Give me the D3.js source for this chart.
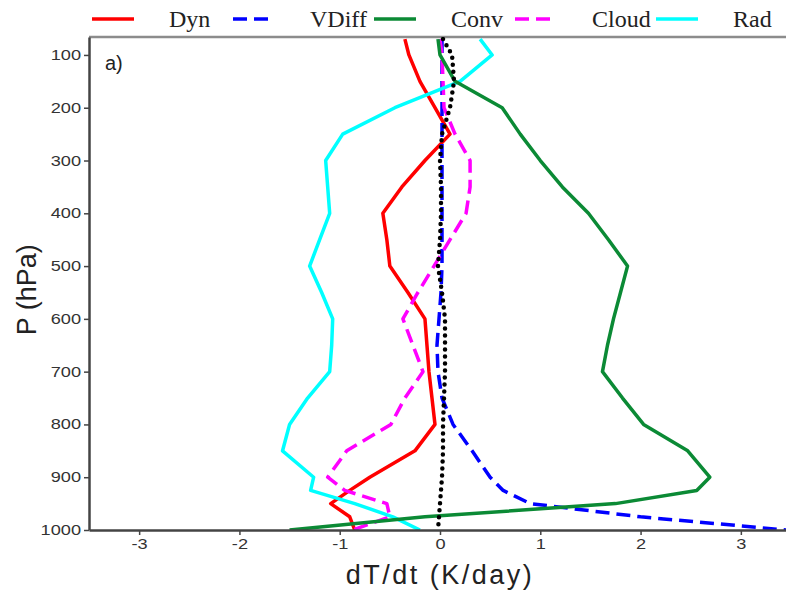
<!DOCTYPE html>
<html>
<head>
<meta charset="utf-8">
<script src="https://d3js.org/d3.v7.min.js"></script>
<style>
  body { margin: 0; background: #fff; }
  svg { display: block; }
</style>
</head>
<body>
<div id="chart"></div>
<script>
// pressure levels (hPa), shared by all profiles
var levels = [70, 100, 150, 200, 250, 300, 350, 400, 450, 500, 550, 600, 650, 700, 750, 800, 850, 900, 925, 950, 975, 1000];

// heating rates, K/day
var dyn   = [-0.35, -0.31, -0.2, -0.05, 0.1, -0.15, -0.38, -0.57, -0.53, -0.5, -0.32, -0.15, -0.13, -0.11, -0.08, -0.05, -0.25, -0.7, -0.9, -1.09, -0.9, -0.85];
var vdiff = [0.02, 0.02, 0.02, 0.02, 0.02, 0.02, 0.02, 0.02, 0.02, 0.02, 0.01, -0.01, -0.03, -0.02, 0.02, 0.13, 0.32, 0.5, 0.63, 0.9, 2.0, 3.45];
var conv  = [-0.02, 0.0, 0.15, 0.62, 0.8, 1.0, 1.22, 1.48, 1.68, 1.87, 1.8, 1.73, 1.67, 1.62, 1.82, 2.03, 2.47, 2.69, 2.56, 1.75, -0.15, -1.5];
var cloud = [0.0, 0.02, 0.03, 0.04, 0.15, 0.3, 0.3, 0.26, 0.1, -0.06, -0.22, -0.37, -0.27, -0.17, -0.35, -0.49, -0.93, -1.12, -0.95, -0.53, -0.5, -0.87];
var rad   = [0.4, 0.52, 0.2, -0.45, -0.97, -1.14, -1.12, -1.1, -1.2, -1.3, -1.18, -1.07, -1.08, -1.1, -1.32, -1.5, -1.57, -1.26, -1.29, -0.85, -0.47, -0.2];
var total = [0.03, 0.12, 0.14, 0.1, 0.02, 0.0, 0.01, 0.01, 0.0, -0.02, 0.02, 0.05, 0.05, 0.05, 0.04, 0.03, 0.03, 0.02, 0.01, 0.0, -0.01, -0.02];

var xTicks = [-3, -2, -1, 0, 1, 2, 3];
var yTicks = [100, 200, 300, 400, 500, 600, 700, 800, 900, 1000];

var series = [
  {name: "Dyn",   values: dyn,   color: "#ff0000", dash: null,   legend: true},
  {name: "VDiff", values: vdiff, color: "#0000ff", dash: "14,7", legend: true},
  {name: "Cloud", values: cloud, color: "#ff00ff", dash: "14,7", legend: true},
  {name: "Rad",   values: rad,   color: "#00ffff", dash: null,   legend: true},
  {name: "Conv",  values: conv,  color: "#0b8a35", dash: null,   legend: true},
  {name: "Total", values: total, color: "#000000", dash: "0,7",  legend: false}
];
var legendOrder = ["Dyn", "VDiff", "Conv", "Cloud", "Rad"];

var W = 786, H = 593;
var margin = {top: 37, right: -5, bottom: 63, left: 89};
var width = W - margin.left - margin.right,
    height = H - margin.top - margin.bottom;

var svg = d3.select("#chart").append("svg")
  .attr("width", W)
  .attr("height", H)
  .style("font-family", "'Liberation Sans', Arial, sans-serif");

var x = d3.scaleLinear().domain([-3.5, 3.5]).range([0, width]);
var y = d3.scaleLinear().domain([66, 1000]).range([0, height]);

var g = svg.append("g")
  .attr("transform", "translate(" + margin.left + "," + margin.top + ")");

g.append("clipPath").attr("id", "plotclip")
  .append("rect").attr("x", 0).attr("y", 0).attr("width", width).attr("height", height);

// top frame line
g.append("line")
  .attr("x1", 0).attr("x2", width)
  .attr("y1", 0).attr("y2", 0)
  .attr("stroke", "#8c8c8c")
  .attr("stroke-width", 2.5);

// profiles
var line = d3.line()
  .x(function(d){ return x(d.v); })
  .y(function(d){ return y(d.p); });

var lines = g.append("g").attr("clip-path", "url(#plotclip)");
series.forEach(function(s){
  var pts = s.values.map(function(v, i){ return {v: v, p: levels[i]}; });
  lines.append("path")
    .datum(pts)
    .attr("fill", "none")
    .attr("stroke", s.color)
    .attr("stroke-width", s.name == "Total" ? 4.5 : 3.5)
    .attr("stroke-dasharray", s.dash)
    .attr("stroke-linecap", s.name == "Total" ? "round" : "butt")
    .attr("stroke-linejoin", "round")
    .attr("d", line);
});

// y axis
var sx = 1.3;
var yAxis = g.append("g")
  .call(d3.axisLeft(y).tickValues(yTicks).tickSize(5).tickSizeOuter(0).tickPadding(3)
    .tickFormat(function(d){ return String(d); }));
yAxis.select(".domain").attr("stroke", "#444").attr("stroke-width", 2.5);
yAxis.selectAll(".tick line").attr("stroke", "#444").attr("stroke-width", 1.5);
yAxis.selectAll(".tick text")
  .attr("fill", "#333")
  .style("font-size", "14px")
  .attr("x", -8 / sx)
  .attr("transform", "scale(" + sx + ",1)");

// x axis
var xAxis = g.append("g")
  .attr("transform", "translate(0," + height + ")")
  .call(d3.axisBottom(x).tickValues(xTicks).tickSize(5).tickSizeOuter(0).tickPadding(4)
    .tickFormat(function(d){ return String(d); }));
xAxis.select(".domain").attr("stroke", "#444").attr("stroke-width", 2.5);
xAxis.selectAll(".tick line").attr("stroke", "#444").attr("stroke-width", 1.5);
xAxis.selectAll(".tick text")
  .attr("fill", "#333")
  .style("font-size", "14px")
  .attr("transform", "scale(" + sx + ",1)");

// axis titles
svg.append("text")
  .attr("transform", "translate(36," + (margin.top + y(545)) + ") rotate(-90)")
  .attr("text-anchor", "middle")
  .style("font-size", "27px")
  .attr("fill", "#222")
  .text("P (hPa)");

svg.append("text")
  .attr("x", margin.left + x(0))
  .attr("y", 584)
  .attr("text-anchor", "middle")
  .style("font-size", "27px")
  .style("letter-spacing", "2.5px")
  .attr("fill", "#222")
  .text("dT/dt (K/day)");

// panel label
g.append("text")
  .attr("x", 16)
  .attr("y", 33)
  .style("font-size", "20px")
  .attr("fill", "#222")
  .text("a)");

// legend
var leg = svg.append("g").attr("transform", "translate(92,0)");
legendOrder.forEach(function(n, i){
  var s = series.filter(function(d){ return d.name == n; })[0];
  var it = leg.append("g").attr("transform", "translate(" + (i * 141) + ",0)");
  it.append("line")
    .attr("x1", 0).attr("x2", 42)
    .attr("y1", 19).attr("y2", 19)
    .attr("stroke", s.color)
    .attr("stroke-width", 3.5)
    .attr("stroke-dasharray", s.dash);
  it.append("text")
    .attr("x", 77)
    .attr("y", 27)
    .style("font-family", "'Liberation Serif', 'Times New Roman', serif")
    .style("font-size", "24px")
    .attr("fill", "#222")
    .text(n);
});
</script>
</body>
</html>
